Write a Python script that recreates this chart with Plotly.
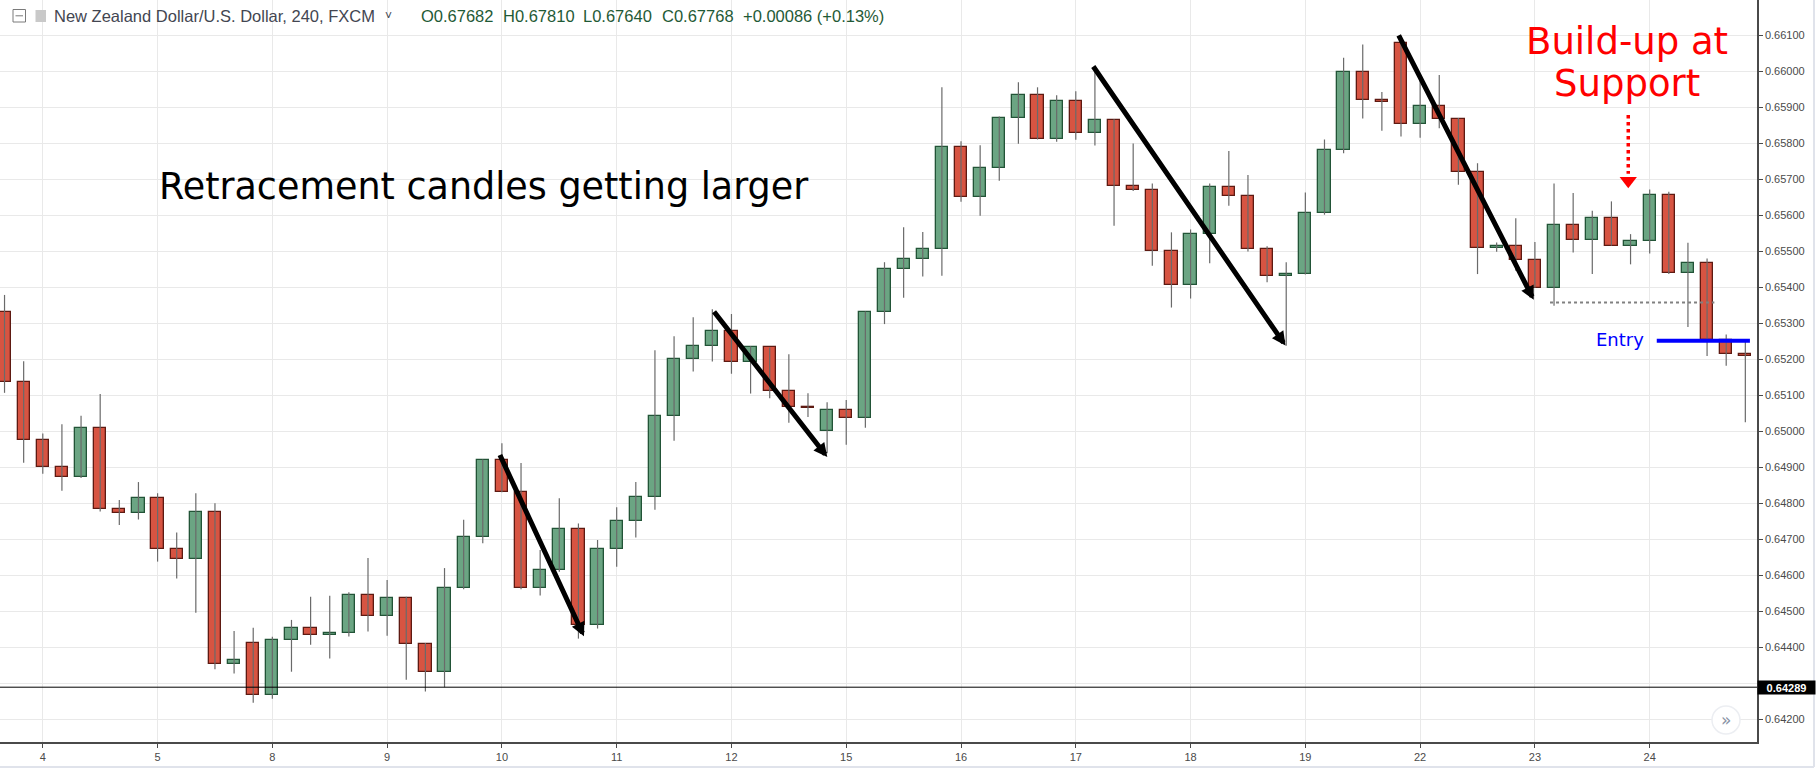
import plotly.graph_objects as go

# ---------------- data ----------------
day_labels = ["4", "5", "8", "9", "10", "11", "12", "15", "16", "17", "18", "19", "22", "23", "24"]
bars_per_day = 6
first_bar = -2

opens = [0.65331, 0.65136, 0.64975, 0.64900, 0.64872, 0.65008, 0.64783, 0.64772, 0.64814, 0.64672,
         0.64644, 0.64775, 0.64353, 0.64411, 0.64267, 0.64419, 0.64453, 0.64433, 0.64439, 0.64544,
         0.64486, 0.64536, 0.64408, 0.64331, 0.64564, 0.64706, 0.64919, 0.64831, 0.64564, 0.64614,
         0.64728, 0.64461, 0.64672, 0.64750, 0.64817, 0.65044, 0.65200, 0.65236, 0.65278, 0.65192,
         0.65233, 0.65111, 0.65067, 0.65000, 0.65058, 0.65036, 0.65333, 0.65450, 0.65478, 0.65508,
         0.65789, 0.65650, 0.65733, 0.65872, 0.65936, 0.65811, 0.65919, 0.65828, 0.65864, 0.65683,
         0.65672, 0.65500, 0.65408, 0.65547, 0.65678, 0.65653, 0.65508, 0.65431, 0.65436, 0.65608,
         0.65781, 0.65998, 0.65920, 0.66079, 0.65853, 0.65903, 0.65867, 0.65722, 0.65510, 0.65516,
         0.65477, 0.65399, 0.65574, 0.65533, 0.65594, 0.65516, 0.65530, 0.65658, 0.65441, 0.65469,
         0.65255, 0.65215]
highs = [0.65379, 0.65195, 0.64994, 0.65020, 0.65043, 0.65104, 0.64809, 0.64859, 0.64828, 0.64719,
         0.64828, 0.64800, 0.64445, 0.64454, 0.64429, 0.64476, 0.64540, 0.64543, 0.64553, 0.64648,
         0.64587, 0.64540, 0.64412, 0.64620, 0.64754, 0.64922, 0.64967, 0.64912, 0.64670, 0.64814,
         0.64744, 0.64698, 0.64789, 0.64859, 0.65225, 0.65264, 0.65317, 0.65339, 0.65326, 0.65236,
         0.65233, 0.65214, 0.65106, 0.65081, 0.65087, 0.65333, 0.65470, 0.65567, 0.65554, 0.65956,
         0.65806, 0.65795, 0.65875, 0.65970, 0.65956, 0.65934, 0.65945, 0.66010, 0.65867, 0.65800,
         0.65689, 0.65553, 0.65561, 0.65689, 0.65779, 0.65712, 0.65514, 0.65470, 0.65664, 0.65811,
         0.66038, 0.66075, 0.65943, 0.66090, 0.65979, 0.65990, 0.65871, 0.65745, 0.65525, 0.65592,
         0.65526, 0.65689, 0.65662, 0.65613, 0.65639, 0.65548, 0.65672, 0.65666, 0.65524, 0.65480,
         0.65269, 0.65255]
lows = [0.65107, 0.64913, 0.64882, 0.64835, 0.64870, 0.64777, 0.64740, 0.64755, 0.64638, 0.64591,
        0.64496, 0.64339, 0.64327, 0.64246, 0.64257, 0.64332, 0.64407, 0.64369, 0.64430, 0.64444,
        0.64432, 0.64310, 0.64277, 0.64289, 0.64561, 0.64689, 0.64831, 0.64561, 0.64544, 0.64610,
        0.64424, 0.64452, 0.64624, 0.64705, 0.64782, 0.64974, 0.65166, 0.65194, 0.65160, 0.65105,
        0.65092, 0.65024, 0.65040, 0.64939, 0.64963, 0.65010, 0.65298, 0.65371, 0.65430, 0.65432,
        0.65638, 0.65599, 0.65696, 0.65799, 0.65811, 0.65805, 0.65810, 0.65794, 0.65571, 0.65668,
        0.65460, 0.65344, 0.65369, 0.65467, 0.65627, 0.65500, 0.65414, 0.65238, 0.65436, 0.65602,
        0.65773, 0.65869, 0.65835, 0.65819, 0.65816, 0.65842, 0.65685, 0.65437, 0.65499, 0.65446,
        0.65399, 0.65349, 0.65497, 0.65437, 0.65516, 0.65464, 0.65494, 0.65437, 0.65290, 0.65209,
        0.65182, 0.65025]
closes = [0.65136, 0.64975, 0.64900, 0.64872, 0.65008, 0.64783, 0.64772, 0.64814, 0.64672, 0.64644,
          0.64775, 0.64353, 0.64364, 0.64267, 0.64419, 0.64453, 0.64433, 0.64439, 0.64544, 0.64486,
          0.64536, 0.64408, 0.64331, 0.64564, 0.64706, 0.64919, 0.64831, 0.64564, 0.64614, 0.64728,
          0.64461, 0.64672, 0.64750, 0.64817, 0.65044, 0.65200, 0.65236, 0.65278, 0.65192, 0.65233,
          0.65111, 0.65067, 0.65064, 0.65058, 0.65036, 0.65331, 0.65450, 0.65478, 0.65508, 0.65789,
          0.65650, 0.65733, 0.65872, 0.65936, 0.65811, 0.65919, 0.65828, 0.65864, 0.65683, 0.65672,
          0.65500, 0.65408, 0.65547, 0.65678, 0.65653, 0.65508, 0.65431, 0.65436, 0.65608, 0.65781,
          0.65998, 0.65920, 0.65914, 0.65853, 0.65903, 0.65867, 0.65722, 0.65510, 0.65516, 0.65477,
          0.65399, 0.65574, 0.65533, 0.65594, 0.65516, 0.65530, 0.65658, 0.65441, 0.65469, 0.65255,
          0.65215, 0.65210]

price_ticks = [0.642, 0.643, 0.644, 0.645, 0.646, 0.647, 0.648, 0.649, 0.650, 0.651, 0.652,
               0.653, 0.654, 0.655, 0.656, 0.657, 0.658, 0.659, 0.660, 0.661]

support_level = 0.64289
buildup_low = 0.65358
entry_level = 0.65252

# drawn annotations (bar index, price)
arrow_tail_x = [23.86, 35.03, 54.86, 70.84]
arrow_tail_y = [0.649383, 0.653367, 0.660181, 0.661047]
arrow_tip_x = [28.29, 41.01, 64.96, 77.94]
arrow_tip_y = [0.644306, 0.649286, 0.652383, 0.653653]

header_title = "New Zealand Dollar/U.S. Dollar, 240, FXCM"
header_values = ["O0.67682", "H0.67810", "L0.67640", "C0.67768", "+0.00086 (+0.13%)"]

# ---------------- figure ----------------
W, H = 1817, 769
ML, MR, MT, MB = 0, 60, 0, 27
PW, PH = W - ML - MR, H - MT - MB

idx = list(range(first_bar, first_bar + len(opens)))
x_range = [-2.237, 89.61]
y_range = [0.641367, 0.661986]

UP_FILL, UP_LINE = "#6ba583", "#225437"
DN_FILL, DN_LINE = "#d75442", "#5e1a12"
WICK = "#6a6a6a"

wx, wy = [], []
for i, h, l in zip(idx, highs, lows):
    wx += [i, i, None]
    wy += [l, h, None]

base, height, fills, lines = [], [], [], []
for o, c in zip(opens, closes):
    base.append(min(o, c))
    height.append(max(abs(c - o), 0.00002))
    up = c >= o
    fills.append(UP_FILL if up else DN_FILL)
    lines.append(UP_LINE if up else DN_LINE)

fig = go.Figure()
fig.add_trace(go.Scatter(x=wx, y=wy, mode="lines", line=dict(color=WICK, width=1.2),
                         hoverinfo="skip", showlegend=False))
fig.add_trace(go.Bar(x=idx, y=height, base=base, width=0.64,
                     marker=dict(color=fills, line=dict(color=lines, width=1.3)),
                     showlegend=False, hoverinfo="skip"))

# red dotted arrow head
arrow_x = 82.88
fig.add_trace(go.Scatter(x=[arrow_x], y=[0.656964], mode="markers",
                         marker=dict(symbol="triangle-down", size=15, color="#ff0000"),
                         showlegend=False, hoverinfo="skip"))

shapes = [
    dict(type="line", xref="paper", x0=0, x1=1, yref="y", y0=support_level, y1=support_level,
         line=dict(color="#000000", width=1)),
    dict(type="line", xref="x", x0=78.79, x1=87.38, yref="y", y0=buildup_low, y1=buildup_low,
         line=dict(color="#808080", width=2, dash="dot")),
    dict(type="line", xref="x", x0=84.37, x1=89.24, yref="y", y0=entry_level, y1=entry_level,
         line=dict(color="#0000ff", width=4)),
    dict(type="line", xref="x", x0=arrow_x, x1=arrow_x, yref="y", y0=0.658792, y1=0.65716,
         line=dict(color="#ff0000", width=3.5, dash="dot")),
    # bottom and right frame lines
    dict(type="line", xref="paper", x0=0, x1=(W - 3) / PW, yref="paper", y0=-(H - 2 - PH) / PH,
         y1=-(H - 2 - PH) / PH, line=dict(color="#e0e3eb", width=2)),
    dict(type="line", xref="paper", x0=(W - 3) / PW, x1=(W - 3) / PW, yref="paper", y0=-(H - 2 - PH) / PH,
         y1=1, line=dict(color="#e0e3eb", width=2)),
    # header icons
    dict(type="rect", xref="paper", yref="paper", x0=13 / PW, x1=25.5 / PW,
         y0=1 - 22 / PH, y1=1 - 9.5 / PH, line=dict(color="#7a7a7a", width=1)),
    dict(type="line", xref="paper", yref="paper", x0=15.5 / PW, x1=23 / PW,
         y0=1 - 15.8 / PH, y1=1 - 15.8 / PH, line=dict(color="#7a7a7a", width=1)),
    dict(type="rect", xref="paper", yref="paper", x0=35.5 / PW, x1=46 / PW,
         y0=1 - 22 / PH, y1=1 - 10 / PH, line=dict(width=0), fillcolor="#c9c9c9"),
    # scroll button
    dict(type="circle", xref="paper", yref="paper", xsizemode="pixel", ysizemode="pixel",
         xanchor=1726 / PW, yanchor=1 - 720 / PH, x0=-14, x1=14, y0=-14, y1=14,
         line=dict(color="#eceef2", width=1.5), fillcolor="#ffffff"),
]

annotations = []
for tx, ty, hx, hy in zip(arrow_tail_x, arrow_tail_y, arrow_tip_x, arrow_tip_y):
    annotations.append(dict(x=hx, y=hy, ax=tx, ay=ty, xref="x", yref="y", axref="x", ayref="y",
                            text="", showarrow=True, arrowhead=2, arrowsize=0.55, arrowwidth=5,
                            arrowcolor="#000000", standoff=0))

TXT_FONT = "DejaVu Sans, Verdana, sans-serif"
annotations += [
    dict(x=5.97, y=0.656809, xref="x", yref="y", xanchor="left", yanchor="middle",
         text="Retracement candles getting larger", showarrow=False,
         font=dict(family=TXT_FONT, size=36.5, color="#000000")),
    dict(x=82.84, y=0.660842, xref="x", yref="y", xanchor="center", yanchor="middle",
         text="Build-up at", showarrow=False, font=dict(family=TXT_FONT, size=37, color="#ff0000")),
    dict(x=82.84, y=0.659656, xref="x", yref="y", xanchor="center", yanchor="middle",
         text="Support", showarrow=False, font=dict(family=TXT_FONT, size=37, color="#ff0000")),
    dict(x=83.79, y=0.652547, xref="x", yref="y", xanchor="right", yanchor="middle",
         text="Entry", showarrow=False, font=dict(family=TXT_FONT, size=18, color="#0000ff")),
    dict(x=1, xref="paper", xanchor="left", y=support_level, yref="y", yanchor="middle",
         text="<b>0.64289</b>", showarrow=False, bgcolor="#000000", width=55, height=11,
         borderpad=1, align="center",
         font=dict(family="Liberation Sans, Arial, sans-serif", size=11, color="#ffffff")),
    dict(x=1726 / PW, y=1 - 720 / PH, xref="paper", yref="paper", xanchor="center", yanchor="middle",
         text="»", showarrow=False,
         font=dict(family="DejaVu Sans, sans-serif", size=17, color="#8a93a6")),
]

HDR_FONT = "Liberation Sans, Arial, sans-serif"
hdr_y = 1 - 16.3 / PH
annotations.append(dict(x=51.7 / PW, y=hdr_y, xref="paper", yref="paper", xanchor="left",
                        yanchor="middle", text=header_title, showarrow=False,
                        font=dict(family=HDR_FONT, size=16.5, color="#434651")))
annotations.append(dict(x=383 / PW, y=hdr_y, xref="paper", yref="paper", xanchor="left",
                        yanchor="middle", text="˅", showarrow=False,
                        font=dict(family=HDR_FONT, size=12, color="#434651")))
for px, t in zip([419, 500.6, 581, 660, 740.5], header_values):
    annotations.append(dict(x=px / PW, y=hdr_y, xref="paper", yref="paper", xanchor="left",
                            yanchor="middle", text=t, showarrow=False,
                            font=dict(family=HDR_FONT, size=16.5, color="#1f5a36")))

# the 0.64300 label is hidden behind the last-value box in the reference
price_text = ["" if abs(v - 0.643) < 1e-9 else f"{v:.5f}" for v in price_ticks]

fig.update_layout(
    width=W, height=H,
    margin=dict(l=ML, r=MR, t=MT, b=MB, pad=0),
    paper_bgcolor="#ffffff", plot_bgcolor="#ffffff",
    showlegend=False, bargap=0,
    shapes=shapes, annotations=annotations,
    xaxis=dict(range=x_range, tickmode="array",
               tickvals=[k * bars_per_day for k in range(len(day_labels))], ticktext=day_labels,
               showgrid=True, gridcolor="#e9e9e9", gridwidth=1, zeroline=False,
               showline=True, linecolor="#4a4a4a", linewidth=1.5,
               ticks="outside", ticklen=4, tickcolor="#4a4a4a",
               tickfont=dict(family="Liberation Sans, Arial, sans-serif", size=11, color="#4a4a4a"),
               fixedrange=True),
    yaxis=dict(range=y_range, side="right", tickmode="array", tickvals=price_ticks,
               ticktext=price_text,
               showgrid=True, gridcolor="#e9e9e9", gridwidth=1, zeroline=False,
               showline=True, linecolor="#4a4a4a", linewidth=1.5,
               ticks="outside", ticklen=4, tickcolor="#4a4a4a",
               tickfont=dict(family="Liberation Sans, Arial, sans-serif", size=11, color="#4a4a4a"),
               fixedrange=True),
)

fig.write_html("out.html", config={"displayModeBar": False},
               post_script="document.body.style.margin='0';document.body.style.overflow='hidden';")
